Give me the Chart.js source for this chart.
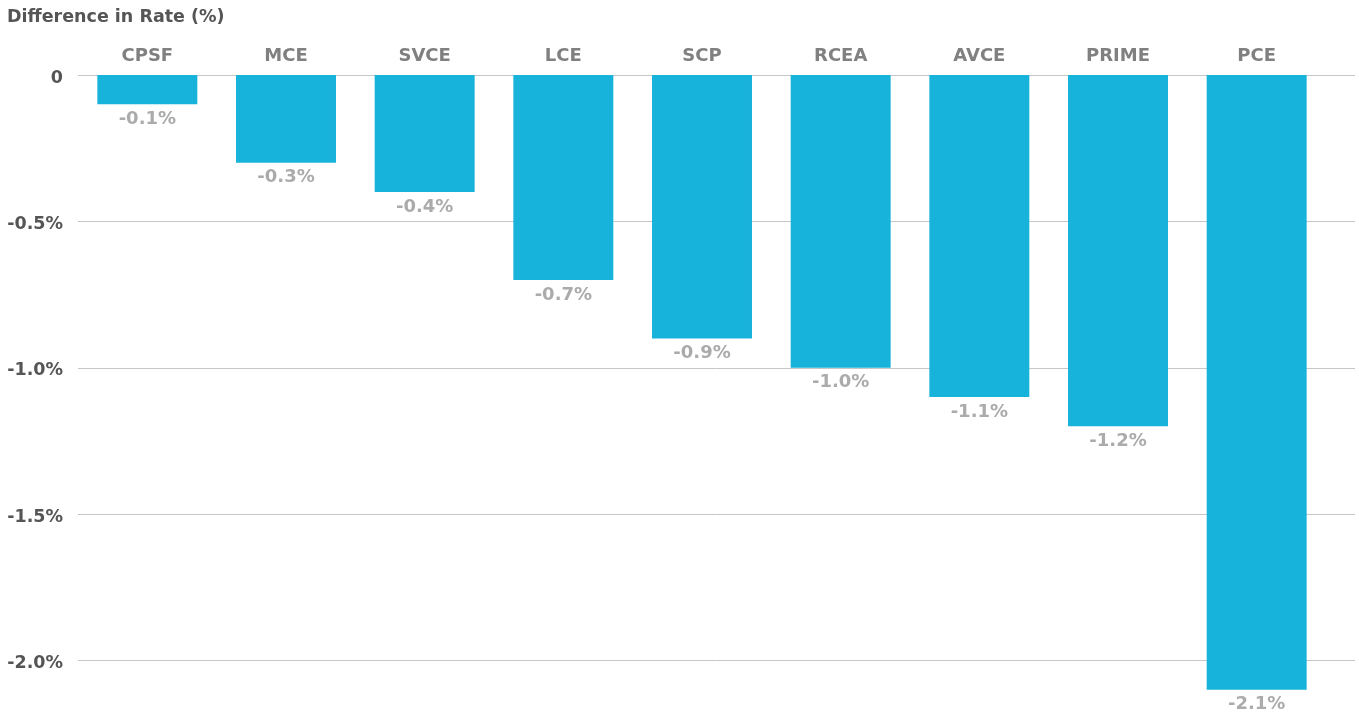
<!DOCTYPE html>
<html>
<head>
<meta charset="utf-8">
<script src="https://cdn.jsdelivr.net/npm/chart.js@4.4.0/dist/chart.umd.min.js"></script>
<style>
  html, body { margin: 0; padding: 0; background: #fff; }
  #wrap { width: 1359px; height: 719px; }
</style>
</head>
<body>
<div id="wrap"><canvas id="myChart"></canvas></div>
<script>
const CATEGORIES = ["CPSF", "MCE", "SVCE", "LCE", "SCP", "RCEA", "AVCE", "PRIME", "PCE"];
const RATE_DIFF = [-0.1, -0.3, -0.4, -0.7, -0.9, -1.0, -1.1, -1.2, -2.1];
const Y_TICKS = [-2.0, -1.5, -1.0, -0.5, 0];

const BAR_COLOUR = "#17b3da";
const FONT = "'DejaVu Sans'";

function tickLabel(v) {
    if (Math.abs(v) < 1e-9) return "0";
    return v.toFixed(1) + "%";
}

// horizontal grid lines run past the last category, so draw them by hand
const gridPlugin = {
    id: "grid",
    beforeDatasetsDraw(chart) {
        const y = chart.scales.y;
        const ctx = chart.ctx;
        ctx.save();
        ctx.strokeStyle = "#c6c6c6";
        ctx.lineWidth = 1;
        for (let v of Y_TICKS) {
            let py = Math.round(y.getPixelForValue(v)) + 0.5;
            ctx.beginPath();
            ctx.moveTo(chart.chartArea.left, py);
            ctx.lineTo(chart.width - 4, py);
            ctx.stroke();
        }
        ctx.restore();
    }
};

const valueLabels = {
    id: "valueLabels",
    afterDatasetsDraw(chart) {
        const ctx = chart.ctx;
        const meta = chart.getDatasetMeta(0);
        ctx.save();
        ctx.fillStyle = "#ababab";
        ctx.font = "bold 18px " + FONT;
        ctx.textAlign = "center";
        ctx.textBaseline = "middle";
        meta.data.forEach((bar, i) => {
            ctx.fillText(RATE_DIFF[i].toFixed(1) + "%", bar.x, bar.y + 15);
        });
        ctx.restore();
    }
};

const ctx = document.getElementById("myChart").getContext("2d");

new Chart(ctx, {
    type: "bar",
    data: {
        labels: CATEGORIES,
        datasets: [{
            data: RATE_DIFF,
            backgroundColor: BAR_COLOUR,
            borderWidth: 0,
            barPercentage: 0.721,
            categoryPercentage: 1.0,
        }]
    },
    plugins: [gridPlugin, valueLabels],
    options: {
        responsive: true,
        maintainAspectRatio: false,
        animation: false,
        layout: {
            padding: { left: 7, right: 33, top: 0, bottom: 0 }
        },
        plugins: {
            legend: { display: false },
            tooltip: { enabled: false },
            title: {
                display: true,
                text: "Difference in Rate (%)",
                align: "start",
                color: "#555555",
                font: { family: FONT, size: 17.5, weight: "bold" },
                padding: { top: 7, bottom: 17 }
            }
        },
        scales: {
            x: {
                position: "top",
                grid: { display: false, drawTicks: false },
                border: { display: false },
                afterFit(scale) {
                    scale.height = 30;
                    scale.paddingLeft = 0;
                    scale.paddingRight = 0;
                },
                ticks: {
                    color: "#808080",
                    font: { family: FONT, size: 18, weight: "bold" },
                    padding: 8,
                    maxRotation: 0,
                }
            },
            y: {
                min: -2.2,
                max: 0,
                grid: { display: false, drawTicks: false },
                border: { display: false },
                afterFit(scale) {
                    scale.width = 71;
                    scale.paddingTop = 0;
                    scale.paddingBottom = 0;
                },
                afterBuildTicks(scale) {
                    scale.ticks = Y_TICKS.map(v => ({ value: v }));
                },
                ticks: {
                    color: "#555555",
                    font: { family: FONT, size: 17.5, weight: "bold" },
                    padding: 15,
                    labelOffset: 3,
                    callback: (v) => tickLabel(v),
                }
            }
        }
    }
});
</script>
</body>
</html>
